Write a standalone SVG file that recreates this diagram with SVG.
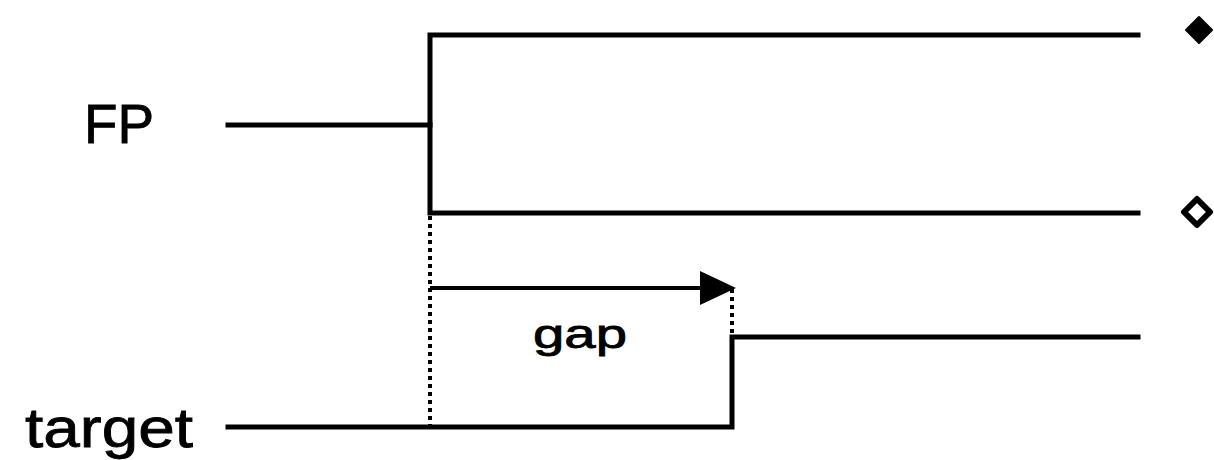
<svg xmlns="http://www.w3.org/2000/svg" width="1214" height="460" viewBox="0 0 1214 460">
<style>
.ln{fill:none;stroke:#000;stroke-width:5;stroke-linecap:square;stroke-linejoin:miter}
.dt{fill:none;stroke:#000;stroke-width:4;stroke-dasharray:4 4}
.lbl{font-family:"Liberation Sans",Arial,sans-serif;fill:#000;stroke:#000;stroke-width:0.8}
</style>
<rect width="1214" height="460" fill="#fff"/>
<g id="connectors">
<path class="ln" d="M228,125 H430"/>
<path class="ln" d="M1138,35 H430 V213 H1138"/>
<path class="ln" d="M228,427 H732 V337 H1138"/>
<path class="dt" d="M430,216 V425"/>
<path class="dt" d="M732,289 V334"/>
<path d="M430,288 H702" stroke="#000" stroke-width="4"/>
<path d="M700,271 L736,288 L700,305 Z" fill="#000"/>
</g>
<g id="fp"><text class="lbl" x="84" y="143" font-size="56" textLength="70" lengthAdjust="spacingAndGlyphs">FP</text></g>
<g id="target"><text class="lbl" x="25" y="447" font-size="55" textLength="168" lengthAdjust="spacingAndGlyphs">target</text></g>
<g id="gap"><text class="lbl" x="533" y="348" font-size="40" textLength="94" lengthAdjust="spacingAndGlyphs">gap</text></g>
<g id="diamond-filled"><path d="M1199,17 L1212,30 L1199,43 L1186,30 Z" fill="#000" stroke="#000" stroke-width="2" stroke-linejoin="round"/></g>
<g id="diamond-open"><path d="M1197,199 L1210,212 L1197,225 L1184,212 Z" fill="#fff" stroke="#000" stroke-width="6" stroke-linejoin="round"/></g>
</svg>
